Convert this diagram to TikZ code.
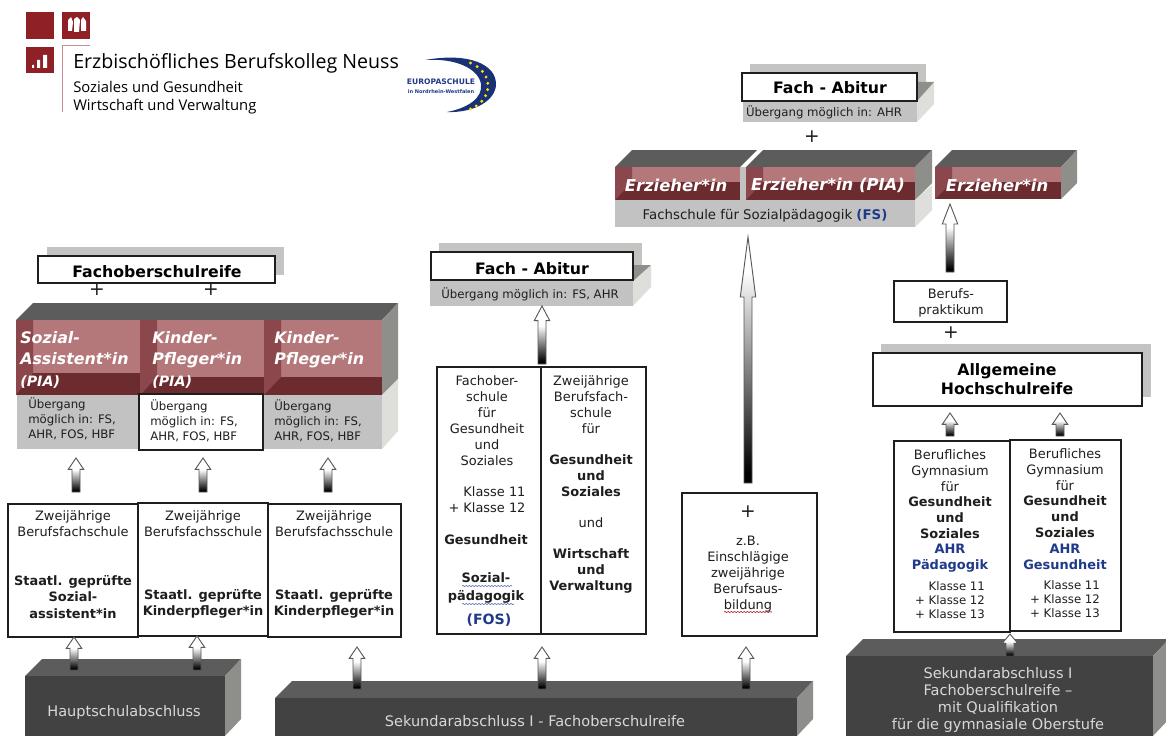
\documentclass[tikz,border=0pt]{standalone}
\usepackage{fontspec}
\setmainfont{DejaVu Sans}
\newfontfamily\logofont{Open Sans}
\usetikzlibrary{calc,decorations.pathmorphing}
\definecolor{topgrey}{HTML}{5C5C5C}
\definecolor{frontgrey}{HTML}{424242}
\definecolor{sidegrey}{HTML}{8E8F8A}
\definecolor{sidelight}{HTML}{DEDFDB}
\definecolor{basegrey}{HTML}{C2C2C2}
\definecolor{shadowgrey}{HTML}{C4C4C2}
\definecolor{rose}{HTML}{B4777A}
\definecolor{bandred}{HTML}{8C474C}
\definecolor{darkred}{HTML}{6C2B2F}
\definecolor{logored}{HTML}{8E2026}
\definecolor{schoolblue}{HTML}{1F3A8A}
\definecolor{ink}{HTML}{1E1E1E}
\definecolor{paletext}{HTML}{D8D8D8}
\pgfdeclareverticalshading{arrowgrad}{100bp}{color(0bp)=(black);color(27bp)=(black);color(58bp)=(white);color(100bp)=(white)}
\pgfdeclareverticalshading{longgrad}{100bp}{color(0bp)=(black);color(27bp)=(black);color(68bp)=(white);color(100bp)=(white)}
\tikzset{
  whitebox/.style={draw=ink,line width=1pt,fill=white,inner sep=0pt,outer sep=0pt},
  thickbox/.style={draw=ink,line width=1.3pt,fill=white,inner sep=0pt,outer sep=0pt},
  plainfill/.style={inner sep=0pt,outer sep=0pt},
  txt/.style={inner sep=0pt,align=center,text=ink,font=\fontsize{9.7}{12}\selectfont},
  lefttxt/.style={inner sep=0pt,align=left,text=ink,font=\fontsize{8.8}{11}\selectfont},
  smalltxt/.style={inner sep=0pt,align=center,text=ink,font=\fontsize{8.8}{10.6}\selectfont},
  title/.style={inner sep=0pt,align=center,text=black,font=\fontsize{11.8}{14.4}\selectfont\bfseries},
  redtxt/.style={inner sep=0pt,align=left,text=white,font=\fontsize{11.9}{16.2}\selectfont\bfseries\itshape},
  redtxtwide/.style={inner sep=0pt,align=left,text=white,font=\fontsize{12.3}{16}\selectfont\bfseries\itshape},
  darktxt/.style={inner sep=0pt,align=center,text=paletext,font=\fontsize{10.9}{12.9}\selectfont},
  plus/.style={inner sep=0pt,text=ink,font=\fontsize{14}{14}\selectfont},
  logotxt/.style={inner sep=0pt,anchor=west,text=black,font=\logofont\fontsize{11.1}{12}\selectfont},
  wavy/.style={decorate,decoration={snake,amplitude=.35pt,segment length=2.4pt}},
}
% a rectangle node given by its pixel corners
\newcommand\boxn[6]{\node[#6,minimum width={(#4-#2)*0.75pt},minimum height={(#5-#3)*0.75pt}] (#1) at ({(#2+#4)/2},{(#3+#5)/2}) {};}
% hollow upward block arrow between two named coordinates; optional: head length
\newcommand\blockarrow[3][8.5pt]{%
  \path let \p1=(#2),\p2=(#3) in
    [draw=black!65,line width=.7pt,shading=arrowgrad]
    ({\x1-3pt},\y1) -- ({\x1-3pt},{\y2-#1}) -- ({\x1-5.8pt},{\y2-#1}) -- (\x1,\y2) -- ({\x1+5.8pt},{\y2-#1}) -- ({\x1+3pt},{\y2-#1}) -- ({\x1+3pt},\y1) -- cycle;}
\newcommand\longarrow[3][45pt]{%
  \path let \p1=(#2),\p2=(#3) in
    [draw=black!65,line width=.7pt,shading=longgrad]
    ({\x1-3pt},\y1) -- ({\x1-3pt},{\y2-#1}) -- ({\x1-5.8pt},{\y2-#1}) -- (\x1,\y2) -- ({\x1+5.8pt},{\y2-#1}) -- ({\x1+3pt},{\y2-#1}) -- ({\x1+3pt},\y1) -- cycle;}
% red front of a block: name,x1,x2,ytop,yinner,ybottom
\newcommand\redcell[6]{%
  \boxn{#1}{#2}{#4}{#3}{#6}{plainfill,fill=darkred}
  \fill[rose] ({#2+17},#4) rectangle (#3,#5);
  \fill[bandred] (#2,#4) -- ({#2+17},#4) -- ({#2+17},#5) -- (#2,#6) -- cycle;}
% dark block cut by the picture edge: name,x1,x2,ytop,text
\newcommand\darkblock[4]{%
  \fill[topgrey] (#2,#4) -- ({#2+17},{#4-17}) -- ({#3+16},{#4-17}) -- (#3,#4) -- cycle;
  \fill[sidegrey] (#3,#4) -- ({#3+16},{#4-17}) -- ({#3+16},719) -- (#3,736) -- cycle;
  \boxn{#1}{#2}{#4}{#3}{740}{plainfill,fill=frontgrey}}
\begin{document}
\begin{tikzpicture}[x=0.75pt,y=-0.75pt]
\clip (0,0) rectangle (1166,735);
\fill[white] (0,0) rectangle (1166,735);

% ---------- logo ----------
\boxn{sq1}{26}{12}{54}{39}{plainfill,fill=logored}
\boxn{sq2}{62}{12}{90}{39}{plainfill,fill=logored}
\boxn{sq3}{26}{47}{54}{73}{plainfill,fill=logored}
\fill[white] (68,20) -- (71,17) -- (73,22) -- (72,31) -- (68,31) -- cycle
             (74,19) -- (77,17) -- (80,20) -- (79,32) -- (74,32) -- cycle
             (81,20) -- (83,17) -- (86,21) -- (86,31) -- (81,31) -- cycle;
\fill[white] (32,65) rectangle (34,68) (37,60) rectangle (40,68) (43,55) rectangle (47,68);
\draw[logored!50,line width=.7pt] (90,45) -- (62.5,45) -- (62.5,112);
\node[logotxt,font=\logofont\fontsize{14.7}{16}\selectfont] (lg1) at (73,63) {Erzbischöfliches Berufskolleg Neuss};
\node[logotxt] (lg2) at (73,87) {Soziales und Gesundheit};
\node[logotxt] (lg3) at (73,107) {Wirtschaft und Verwaltung};
% Europaschule
\fill[schoolblue!85!black] (425,60) .. controls (470,52) and (496,65) .. (496,84)
   .. controls (496,100) and (475,113) .. (447,112)
   .. controls (468,108) and (483,98) .. (481,84)
   .. controls (478,68) and (455,58) .. (425,60) -- cycle;
\foreach \a in {-62,-48,-34,-20,-6,8,22,36,50,62}
  \fill[yellow!85!orange] ($(455,86)+(\a:33 and 26)$) circle (1.6);
\node[inner sep=0pt,text=schoolblue,font=\fontsize{5.7}{6}\selectfont\bfseries] (eu1) at (441,82) {EUROPASCHULE};
\node[inner sep=0pt,text=schoolblue,font=\fontsize{3.8}{4}\selectfont\bfseries] (eu2) at (441,92) {in Nordrhein-Westfalen};

% ---------- left: Fachoberschulreife ----------
\boxn{fsrs}{47}{247}{284}{275}{plainfill,fill=shadowgrey}
\boxn{fsr}{38}{256}{275}{283}{thickbox}
\node[title] (fsrt) at (157,272) {Fachoberschulreife};
\node[plus] (p1) at (97,290) {+};
\node[plus] (p2) at (211,290) {+};

% left block
\fill[topgrey] (16,320) -- (33,303) -- (398,303) -- (382,320) -- cycle;
\fill[sidegrey] (382,320) -- (398,303) -- (398,379) -- (382,395) -- cycle;
\fill[sidelight] (382,395) -- (398,379) -- (398,431) -- (382,449) -- cycle;
\redcell{rc1}{16}{140}{320}{373}{395}
\redcell{rc2}{140}{264}{320}{377}{395}
\redcell{rc3}{264}{382}{320}{377}{395}
\boxn{gc1}{17}{395}{139}{449}{plainfill,fill=basegrey}
\boxn{gc3}{264}{395}{382}{449}{plainfill,fill=basegrey}
\boxn{gc2}{139}{394}{263}{450}{thickbox}
\node[redtxt,anchor=north west] (rt1) at (20,331) {Sozial-\\Assistent*in\\{\fontsize{10.7}{16.2}\selectfont (PIA)}};
\node[redtxt,anchor=north west] (rt2) at (152,331) {Kinder-\\Pfleger*in\\{\fontsize{10.7}{16.2}\selectfont (PIA)}};
\node[redtxt,anchor=north west] (rt3) at (274,331) {Kinder-\\Pfleger*in};
\node[lefttxt,anchor=north west] (ut1) at (28,398) {Übergang\\möglich in: FS,\\AHR, FOS, HBF};
\node[lefttxt,anchor=north west] (ut2) at (150,400) {Übergang\\möglich in: FS,\\AHR, FOS, HBF};
\node[lefttxt,anchor=north west] (ut3) at (274,400) {Übergang\\möglich in: FS,\\AHR, FOS, HBF};

% left lower boxes
\boxn{b1}{8}{504}{138}{637}{whitebox}
\boxn{b3}{268}{504}{401}{637}{whitebox}
\boxn{b2}{138}{503}{268}{636}{whitebox}
\node[txt] (b1a) at (73,524) {Zweijährige\\Berufsfachschule};
\node[txt] (b2a) at (203,524) {Zweijährige\\Berufsfachsschule};
\node[txt] (b3a) at (334,524) {Zweijährige\\Berufsfachsschule};
\node[txt,font=\fontsize{9.7}{12.6}\selectfont\bfseries] (b1b) at (73,597) {Staatl. geprüfte\\Sozial-\\assistent*in};
\node[txt,font=\fontsize{9.7}{12}\selectfont\bfseries] (b2b) at (203,604) {Staatl. geprüfte\\Kinderpfleger*in};
\node[txt,font=\fontsize{9.7}{12}\selectfont\bfseries] (b3b) at (334,604) {Staatl. geprüfte\\Kinderpfleger*in};

% dark blocks
\darkblock{hs}{25}{225}{676}
\node[darktxt] (hst) at (124,712) {Hauptschulabschluss};
\darkblock{sek}{275}{797}{698}
\node[darktxt] (sekt) at (535,721) {Sekundarabschluss I - Fachoberschulreife};
\darkblock{rb}{846}{1153}{656}
\node[darktxt] (rbt) at (998,700) {Sekundarabschluss I\\Fachoberschulreife –\\mit Qualifikation\\für die gymnasiale Oberstufe};

% ---------- centre: Fach-Abitur ----------
\boxn{fa1s}{439}{243}{642}{265}{plainfill,fill=shadowgrey}
\fill[sidelight] (633,281) -- (651,265) -- (651,287) -- (633,306) -- cycle;
\fill[sidegrey] (633,265) -- (651,265) -- (633,281) -- cycle;
\boxn{fa1b}{430}{280}{633}{306}{plainfill,fill=basegrey}
\boxn{fa1}{431}{252}{633}{280}{thickbox}
\node[title] (fa1t) at (532,269) {Fach - Abitur};
\node[inner sep=0pt,text=ink,font=\fontsize{8.8}{11}\selectfont] (fa1u) at (530,294) {Übergang möglich in: FS, AHR};

\boxn{big}{437}{367}{646}{634}{whitebox}
\draw[ink,line width=1pt] (big.north) ++(-0.5,0) coordinate (dv1) (big.south) ++(-0.5,0) coordinate (dv2) (dv1) -- (dv2);
\node[txt] (c1a) at (487,421) {Fachober-\\schule\\für\\Gesundheit\\und\\Soziales};
\node[txt] (c1b) at (487,500) {\phantom{+ }Klasse 11\\+ Klasse 12};
\node[txt,font=\fontsize{9.7}{12}\selectfont\bfseries] (c1c) at (486,540) {Gesundheit};
\node[txt,font=\fontsize{9.7}{13.5}\selectfont\bfseries] (c1d) at (486,588) {Sozial-\\pädagogik};
\node[inner sep=0pt,text=schoolblue,font=\fontsize{10.6}{12}\selectfont\bfseries] (c1e) at (489,620) {(FOS)};
\draw[schoolblue!80,line width=.45pt,wavy] (462,604) -- (514,604);
\draw[schoolblue!80,line width=.45pt,wavy] (462,586) -- (512,586);
\node[txt] (c2a) at (591,405) {Zweijährige\\Berufsfach-\\schule\\für};
\node[txt,font=\fontsize{9.7}{12}\selectfont\bfseries] (c2b) at (591,476) {Gesundheit\\und\\Soziales};
\node[txt] (c2c) at (591,523) {und};
\node[txt,font=\fontsize{9.7}{12}\selectfont\bfseries] (c2d) at (591,571) {Wirtschaft\\und\\Verwaltung};

\boxn{zb}{682}{493}{817}{636}{whitebox}
\node[plus] (p3) at (748,512) {+};
\node[txt] (zbt) at (748,574) {z.B.\\Einschlägige\\zweijährige\\Berufsaus-\\bildung};
\draw[red!70!black,line width=.45pt,wavy] (724,612) -- (772,612);

% ---------- top: Erzieher ----------
\boxn{fa2s}{750}{64}{926}{82}{plainfill,fill=shadowgrey}
\fill[sidelight] (917,101) -- (934,82) -- (934,104) -- (917,122) -- cycle;
\fill[sidegrey] (917,82) -- (934,82) -- (917,101) -- cycle;
\boxn{fa2b}{743}{101}{917}{122}{plainfill,fill=basegrey}
\boxn{fa2}{742}{73}{917}{101}{thickbox}
\node[title] (fa2t) at (830,88) {Fach - Abitur};
\node[inner sep=0pt,text=ink,font=\fontsize{8.8}{11}\selectfont] (fa2u) at (824,112) {Übergang möglich in: AHR};
\node[plus] (p4) at (812,137) {+};

\fill[topgrey] (615,167) -- (632,150) -- (757,150) -- (740,167) -- cycle;
\fill[topgrey] (746,167) -- (763,150) -- (932,150) -- (915,167) -- cycle;
\fill[sidegrey] (915,167) -- (932,150) -- (932,183) -- (915,200) -- cycle;
\fill[sidelight] (915,200) -- (932,185) -- (932,210) -- (915,227) -- cycle;
\boxn{fsb}{615}{200}{915}{227}{plainfill,fill=basegrey}
\fill[basegrey] (740,167) rectangle (746,200);
\redcell{e1}{615}{740}{167}{182}{200}
\redcell{e2}{746}{915}{167}{182}{200}
\fill[topgrey] (935,167) -- (952,150) -- (1077,150) -- (1061,167) -- cycle;
\fill[sidegrey] (1061,167) -- (1077,150) -- (1077,183) -- (1061,199) -- cycle;
\redcell{e3}{935}{1061}{167}{182}{199}
\node[redtxtwide] (e1t) at (676,185) {Erzieher*in};
\node[redtxtwide] (e2t) at (828,185) {Erzieher*in (PIA)};
\node[redtxtwide] (e3t) at (997,185) {Erzieher*in};
\node[inner sep=0pt,text=ink,font=\fontsize{10}{11}\selectfont] (fst) at (765,216) {Fachschule für Sozialpädagogik {\color{schoolblue}\bfseries (FS)}};

% ---------- right column ----------
\boxn{prak}{894}{281}{1007}{322}{whitebox}
\node[txt] (prakt) at (951,303) {Berufs-\\praktikum};
\node[plus] (p5) at (951,333) {+};
\boxn{ahss}{881}{344}{1151}{397}{plainfill,fill=shadowgrey}
\boxn{ahs}{873}{353}{1142}{406}{thickbox}
\node[title,font=\fontsize{11.8}{14.4}\selectfont\bfseries] (ahst) at (1007,379) {Allgemeine\\Hochschulreife};
\boxn{g1}{894}{441}{1010}{632}{whitebox}
\boxn{g2}{1010}{440}{1121}{631}{whitebox}
\node[txt] (g1a) at (950,471) {Berufliches\\Gymnasium\\für};
\node[txt,font=\fontsize{9.7}{12}\selectfont\bfseries] (g1b) at (950,518) {Gesundheit\\und\\Soziales};
\node[txt,text=schoolblue,font=\fontsize{9.7}{12}\selectfont\bfseries] (g1c) at (950,558) {AHR\\Pädagogik};
\node[smalltxt] (g1d) at (950,600) {\phantom{+ }Klasse 11\\+ Klasse 12\\+ Klasse 13};
\node[txt] (g2a) at (1065,470) {Berufliches\\Gymnasium\\für};
\node[txt,font=\fontsize{9.7}{12}\selectfont\bfseries] (g2b) at (1065,517) {Gesundheit\\und\\Soziales};
\node[txt,text=schoolblue,font=\fontsize{9.7}{12}\selectfont\bfseries] (g2c) at (1065,557) {AHR\\Gesundheit};
\node[smalltxt] (g2d) at (1065,599) {\phantom{+ }Klasse 11\\+ Klasse 12\\+ Klasse 13};

% ---------- connectors ----------
\blockarrow{$(hs.north west)+(49,-6)$}{$(b1.south west)+(66,0)$}
\blockarrow{$(hs.north west)+(172,-6)$}{$(b2.south west)+(59,0)$}
\blockarrow{$(sek.north west)+(82,-9)$}{$(b3.south west)+(89,10)$}
\blockarrow{$(sek.north west)+(267,-9)$}{$(big.south west)+(105,13)$}
\blockarrow{$(sek.north west)+(471,-9)$}{$(zb.south west)+(64,11)$}
\blockarrow{$(b1.north west)+(68,-12)$}{$(gc1.south west)+(59,9)$}
\blockarrow{$(b2.north west)+(65,-11)$}{$(gc2.south west)+(64,8)$}
\blockarrow{$(b3.north west)+(60,-12)$}{$(gc3.south west)+(64,9)$}
\blockarrow[11pt]{$(big.north west)+(105,-3)$}{$(fa1b.south west)+(112,0)$}
\longarrow{$(zb.north west)+(66,-10)$}{$(fsb.south west)+(133,10)$}
\blockarrow[15pt]{$(prak.north west)+(56,-9)$}{$(e3.south west)+(15,5)$}
\blockarrow{$(g1.north west)+(56,-5)$}{$(ahs.south west)+(77,7)$}
\blockarrow{$(g2.north west)+(50,-4)$}{$(ahs.south west)+(187,7)$}
\blockarrow[7pt]{$(rb.north west)+(164,0)$}{$(g1.south east)+(0,2)$}
\end{tikzpicture}
\end{document}
